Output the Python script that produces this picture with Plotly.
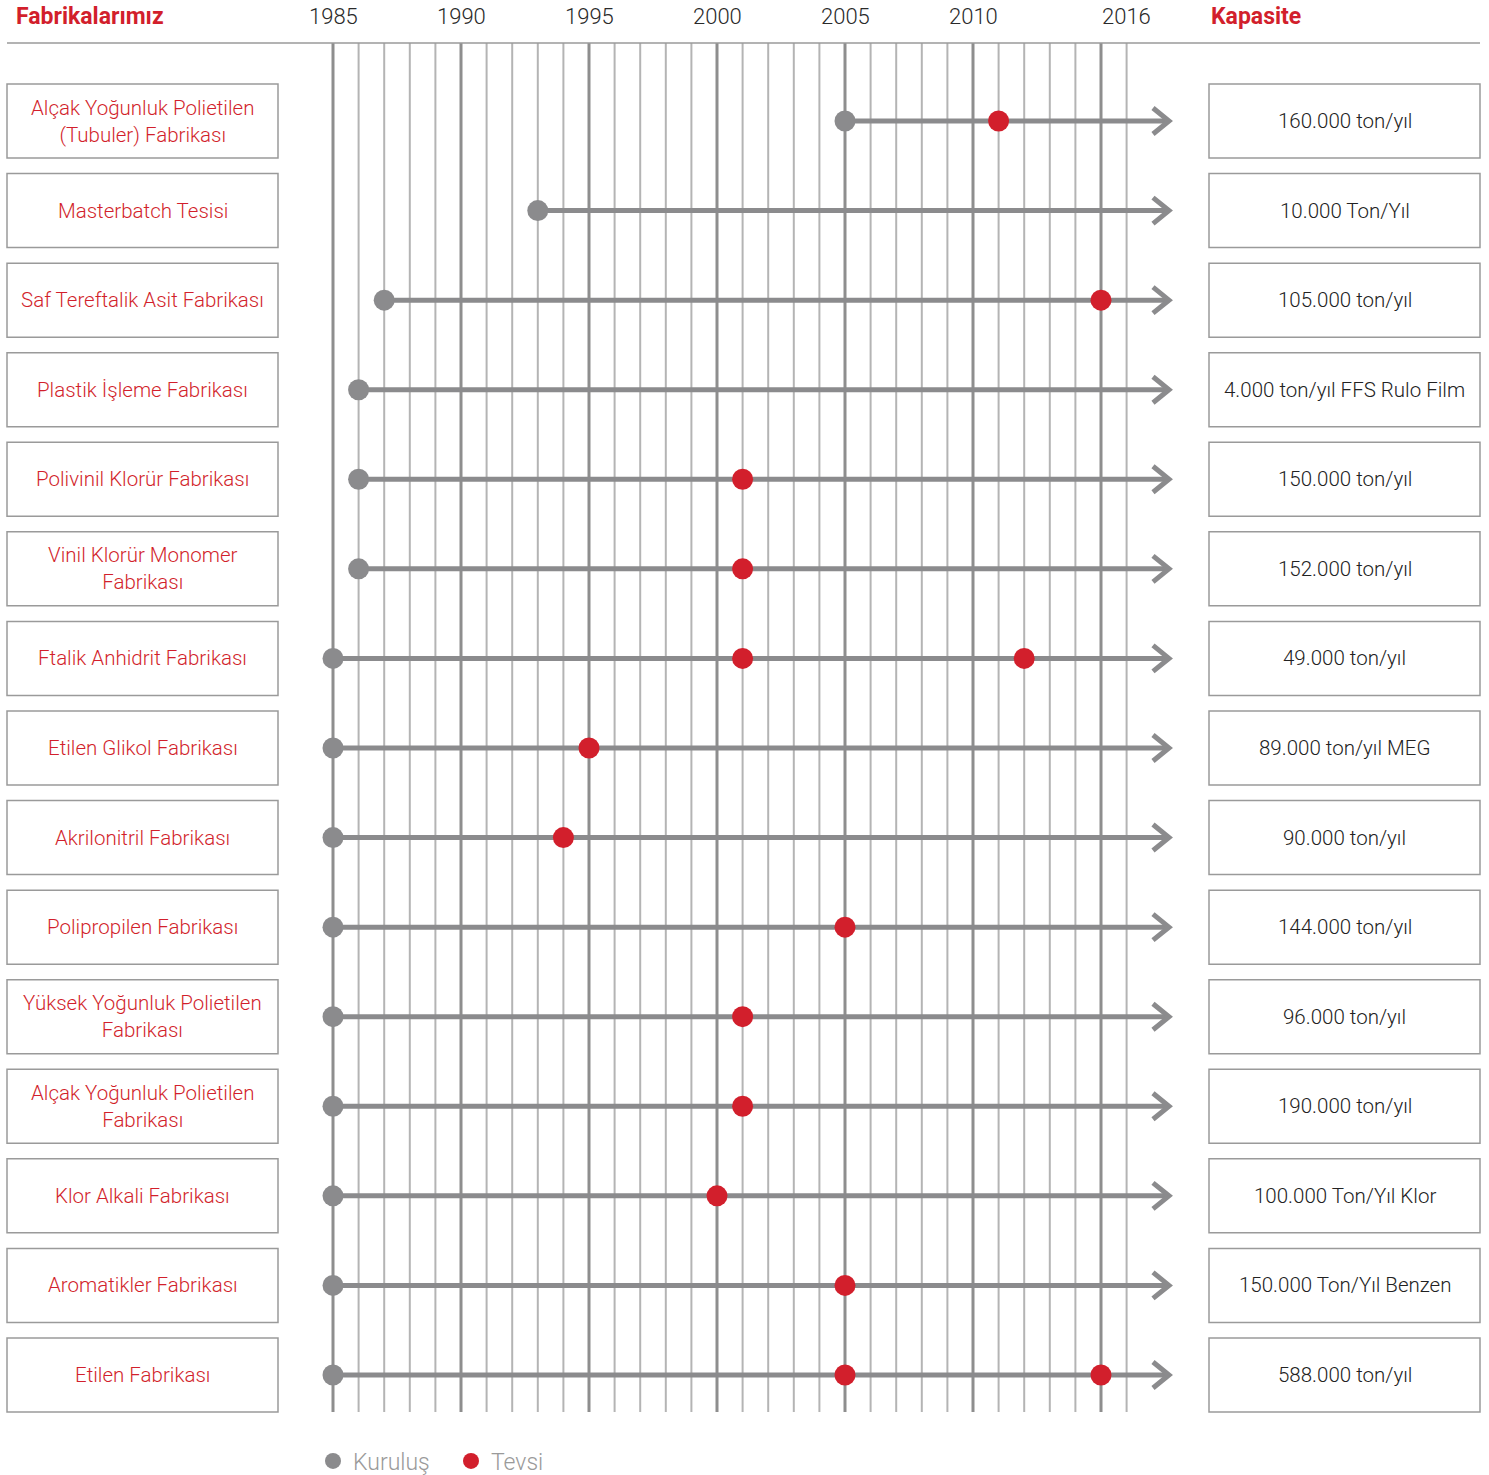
import plotly.graph_objects as go

# ---------------- data ----------------
plants = [
    "Alçak Yoğunluk Polietilen<br>(Tubuler) Fabrikası",
    "Masterbatch Tesisi",
    "Saf Tereftalik Asit Fabrikası",
    "Plastik İşleme Fabrikası",
    "Polivinil Klorür Fabrikası",
    "Vinil Klorür Monomer<br>Fabrikası",
    "Ftalik Anhidrit Fabrikası",
    "Etilen Glikol Fabrikası",
    "Akrilonitril Fabrikası",
    "Polipropilen Fabrikası",
    "Yüksek Yoğunluk Polietilen<br>Fabrikası",
    "Alçak Yoğunluk Polietilen<br>Fabrikası",
    "Klor Alkali Fabrikası",
    "Aromatikler Fabrikası",
    "Etilen Fabrikası",
]
founded = [2005, 1993, 1987, 1986, 1986, 1986, 1985, 1985, 1985, 1985, 1985, 1985, 1985, 1985, 1985]
expansions = [
    [2011], [], [2015], [], [2001], [2001], [2001, 2012], [1995], [1994],
    [2005], [2001], [2001], [2000], [2005], [2005, 2015],
]
capacities = [
    "160.000 ton/yıl", "10.000 Ton/Yıl", "105.000 ton/yıl", "4.000 ton/yıl FFS Rulo Film",
    "150.000 ton/yıl", "152.000 ton/yıl", "49.000 ton/yıl", "89.000 ton/yıl MEG",
    "90.000 ton/yıl", "144.000 ton/yıl", "96.000 ton/yıl", "190.000 ton/yıl",
    "100.000 Ton/Yıl Klor", "150.000 Ton/Yıl Benzen", "588.000 ton/yıl",
]
grid_years = list(range(1985, 2017))
major_years = [1985, 1990, 1995, 2000, 2005, 2010, 2015]
tick_years = [1985, 1990, 1995, 2000, 2005, 2010, 2016]
tick_labels = ["1985", "1990", "1995", "2000", "2005", "2010", "2016"]

# ---------------- geometry / style ----------------
W, H = 1489, 1475
PX_PER_YEAR = 25.6
X_1985 = 333
ROW0, ROW_STEP = 121, 89.57
RED = "#d21f2c"
GRAY = "#8b8b8d"
ARROW_TIP = 1985 + (1169 - X_1985) / PX_PER_YEAR
ARROW_BACK = 1985 + (1153 - X_1985) / PX_PER_YEAR
LINE_END = 1985 + (1166 - X_1985) / PX_PER_YEAR
CHEV = 13 / ROW_STEP
FONT = "Roboto, 'Open Sans', sans-serif"

x_range = [1985 - X_1985 / PX_PER_YEAR, 1985 + (W - X_1985) / PX_PER_YEAR]
y_range = [(H - ROW0) / ROW_STEP, -ROW0 / ROW_STEP]

def py(p):  # pixel y -> paper
    return 1 - p / H

def px(p):  # pixel x -> paper
    return p / W

rows = list(range(len(plants)))

fig = go.Figure()

# timeline lines
lx, ly, cx, cy = [], [], [], []
for i in rows:
    lx += [founded[i], LINE_END, None]
    ly += [i, i, None]
    cx += [ARROW_BACK, ARROW_TIP, ARROW_BACK, None]
    cy += [i - CHEV, i, i + CHEV, None]
fig.add_trace(go.Scatter(x=lx, y=ly, mode="lines", line=dict(color=GRAY, width=5),
                         showlegend=False, hoverinfo="skip"))
fig.add_trace(go.Scatter(x=cx, y=cy, mode="lines", line=dict(color=GRAY, width=5),
                         showlegend=False, hoverinfo="skip"))

fig.add_trace(go.Scatter(x=founded, y=rows, mode="markers", name="Kuruluş",
                         marker=dict(color=GRAY, size=21)))
ex, ey = [], []
for i in rows:
    for yr in expansions[i]:
        ex.append(yr)
        ey.append(i)
fig.add_trace(go.Scatter(x=ex, y=ey, mode="markers", name="Tevsi",
                         marker=dict(color=RED, size=21)))

shapes = []
# grid lines
for yr in grid_years:
    major = yr in major_years
    shapes.append(dict(type="line", xref="x", yref="paper", x0=yr, x1=yr,
                       y0=py(43), y1=py(1412), layer="below",
                       line=dict(color="#8e8e8e" if major else "#b4b4b4", width=3 if major else 2)))
# header line
shapes.append(dict(type="line", xref="paper", yref="paper", x0=px(7), x1=px(1480),
                   y0=py(43), y1=py(43), line=dict(color="#9a9a9a", width=1.5)))
# boxes
half = 37 / ROW_STEP
for i in rows:
    for (a, b) in [(7, 278), (1209, 1480)]:
        shapes.append(dict(type="rect", xref="paper", yref="y", x0=px(a), x1=px(b),
                           y0=i - half, y1=i + half, line=dict(color="#9a9a9a", width=1.5),
                           fillcolor="rgba(0,0,0,0)"))

ann = []
for i in rows:
    ann.append(dict(x=px(142.5), y=i, xref="paper", yref="y", text=plants[i], showarrow=False,
                    xanchor="center", yanchor="middle",
                    font=dict(family=FONT, size=20.5, color=RED, weight=300), align="center"))
    ann.append(dict(x=px(1344.5), y=i, xref="paper", yref="y", text=capacities[i], showarrow=False,
                    xanchor="center", yanchor="middle",
                    font=dict(family=FONT, size=20.5, color="#222222", weight=300), align="center"))
for yr, lab in zip(tick_years, tick_labels):
    ann.append(dict(x=yr, y=py(16), xref="x", yref="paper", text=lab, showarrow=False,
                    xanchor="center", yanchor="middle",
                    font=dict(family=FONT, size=22, color="#2a2a2a", weight=300)))
ann.append(dict(x=px(14), y=py(16), xref="paper", yref="paper", text="<b>Fabrikalarımız</b>",
                showarrow=False, xanchor="left", yanchor="middle",
                font=dict(family=FONT, size=23, color=RED)))
ann.append(dict(x=px(1209), y=py(16), xref="paper", yref="paper", text="<b>Kapasite</b>",
                showarrow=False, xanchor="left", yanchor="middle",
                font=dict(family=FONT, size=23, color=RED)))

fig.update_layout(
    width=W, height=H, autosize=False,
    margin=dict(l=0, r=0, t=0, b=0, pad=0, autoexpand=False),
    plot_bgcolor="white", paper_bgcolor="white",
    xaxis=dict(range=x_range, visible=False, fixedrange=True),
    yaxis=dict(range=y_range, visible=False, fixedrange=True),
    shapes=shapes, annotations=ann,
    showlegend=True,
    legend=dict(orientation="h", x=px(313), y=py(1461), xanchor="left", yanchor="middle",
                font=dict(family=FONT, size=23, color="#9a9a9a", weight=300), itemsizing="trace",
                entrywidth=93, bgcolor="rgba(0,0,0,0)", traceorder="normal"),
)

fig.write_html(
    "out.html",
    config={"displayModeBar": False, "responsive": False},
    post_script=(
        "document.documentElement.style.margin='0';"
        "document.body.style.margin='0';"
        "document.body.style.overflow='hidden';"
        "document.body.style.lineHeight='0';"
        "document.body.style.fontSize='0';"
    ),
)
